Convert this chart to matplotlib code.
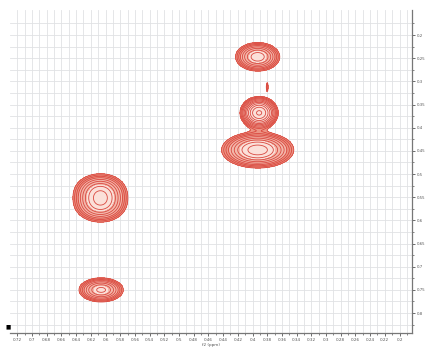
import numpy as np
import matplotlib
matplotlib.use("Agg")
import matplotlib.pyplot as plt

# tick labels
x_ticks = [0.72, 0.70, 0.68, 0.66, 0.64, 0.62, 0.60, 0.58, 0.56, 0.54, 0.52, 0.50, 0.48,
           0.46, 0.44, 0.42, 0.40, 0.38, 0.36, 0.34, 0.32, 0.30, 0.28, 0.26, 0.24, 0.22, 0.20]
y_ticks = [0.20, 0.25, 0.30, 0.35, 0.40, 0.45, 0.50, 0.55, 0.60, 0.65, 0.70, 0.75, 0.80]

# peak list (f2 ppm, f1 ppm, width f2, width f1, amplitude)
peak_f2 = [0.393, 0.391, 0.393, 0.607, 0.607, 0.606, 0.380]
peak_f1 = [0.247, 0.368, 0.448, 0.537, 0.566, 0.750, 0.312]
peak_w2 = [0.0146, 0.0110, 0.0225, 0.0172, 0.0172, 0.0150, 0.0012]
peak_w1 = [0.0150, 0.0150, 0.0179, 0.0190, 0.0190, 0.0130, 0.0090]
peak_amp = [1.0, 2.0, 1.3, 0.85, 0.85, 0.9, 0.2]

fig = plt.figure(figsize=(4.25, 3.54), dpi=100)
ax = fig.add_axes([10/425, 21/354, 402/425, 323/354])

x = np.linspace(0.183, 0.73, 700)
y = np.linspace(0.146, 0.843, 700)
X, Y = np.meshgrid(x, y)
Z = np.zeros_like(X)
for c2, c1, w2, w1, a in zip(peak_f2, peak_f1, peak_w2, peak_w1, peak_amp):
    Z += a * np.exp(-((X - c2) ** 2) / (2 * w2 ** 2) - ((Y - c1) ** 2) / (2 * w1 ** 2))

levels = np.geomspace(0.12, 1.9, 11)
ax.contourf(X, Y, Z, levels=[0.12, 0.3, 0.75, 100],
            colors=["#ec9484", "#f3b7aa", "#fbe0d9"], zorder=2)
ax.contour(X, Y, Z, levels=levels, colors="#d9483f", linewidths=0.6, zorder=3)

ax.set_xlim(0.73, 0.183)
ax.set_ylim(0.843, 0.146)
ax.set_xticks(x_ticks)
ax.set_xticklabels([f"{v:g}" for v in x_ticks], fontsize=3.0, color="#555555")
ax.set_yticks(y_ticks)
ax.set_yticklabels([f"{v:g}" for v in y_ticks], fontsize=2.8, color="#555555")
ax.yaxis.tick_right()
ax.set_xticks(np.arange(0.19, 0.73, 0.02), minor=True)
ax.set_yticks(np.arange(0.175, 0.84, 0.025), minor=True)
ax.tick_params(axis="both", which="major", length=2, width=0.6, pad=1.5, color="#555555")
ax.tick_params(axis="both", which="minor", length=1.2, width=0.5, color="#555555")
ax.grid(True, which="both", color="#e0e2e4", linewidth=0.6, zorder=0)
ax.set_axisbelow(True)
for s in ["left", "top"]:
    ax.spines[s].set_visible(False)
for s in ["right", "bottom"]:
    ax.spines[s].set_color("#777777")
    ax.spines[s].set_linewidth(0.9)
ax.set_xlabel("f2 (ppm)", fontsize=3.0, labelpad=0.5, color="#555555")
fig.text(5/425, (354-327)/354, "■", fontsize=4, color="black", va="center")

fig.savefig("out.png", dpi=100)
